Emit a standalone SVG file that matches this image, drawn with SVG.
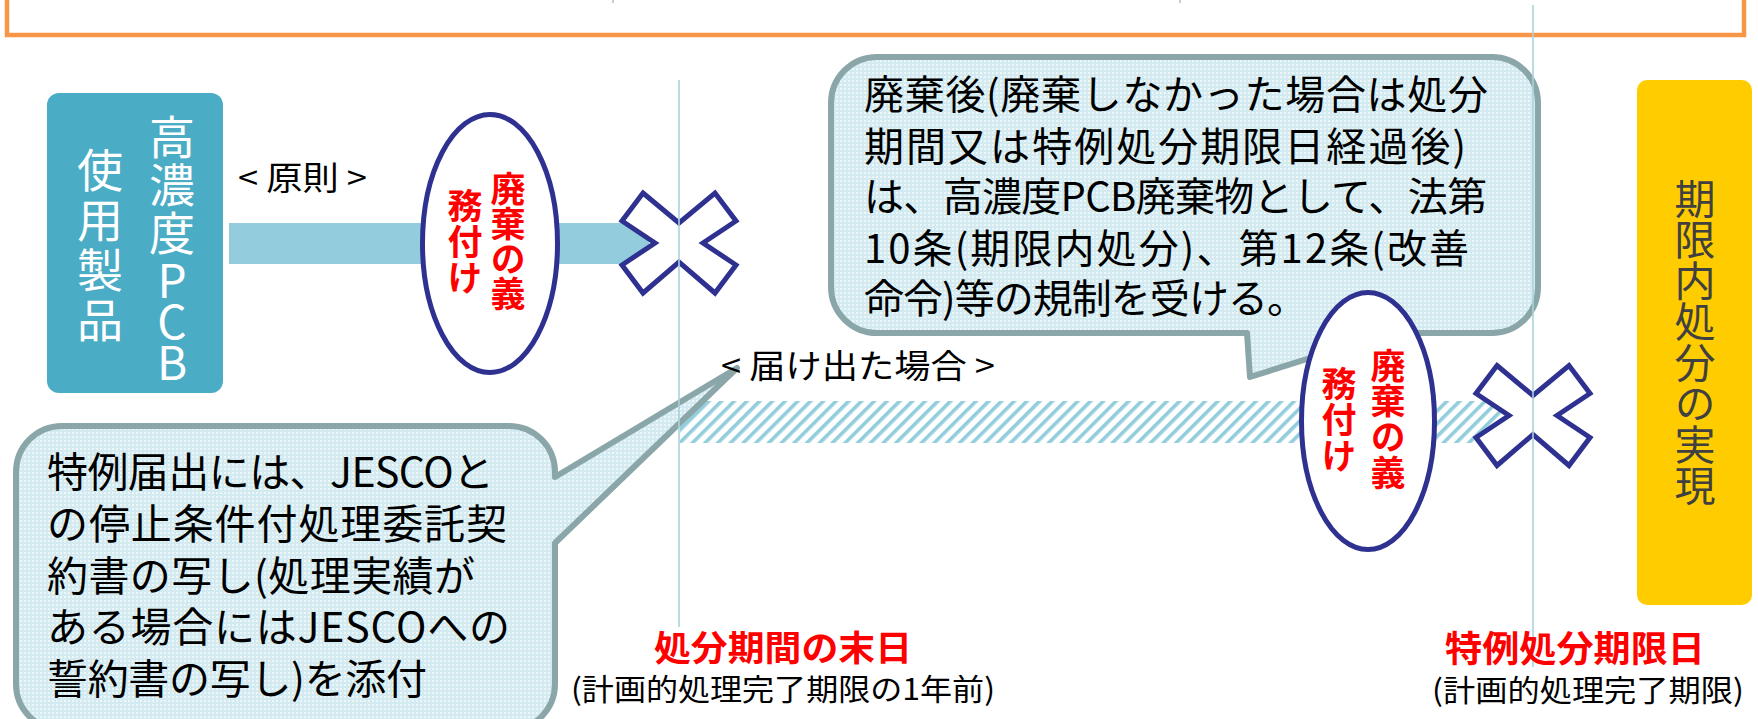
<svg xmlns="http://www.w3.org/2000/svg" width="1758" height="719" viewBox="0 0 1758 719">
<defs>
<style>
text{font-family:"Noto Sans CJK JP","Noto Sans CJK SC",sans-serif;}
.blk{fill:#000;}
.red{fill:#FF0000;font-weight:bold;}
.wht{fill:#fff;}
.vt{writing-mode:vertical-rl;text-orientation:upright;}
.vline{stroke:#A9D3DA;stroke-width:1.6;fill:none;}
.callout{fill:url(#dots);stroke:#8BA6A8;stroke-width:6;stroke-linejoin:round;}
.ell{fill:#fff;stroke:#2E3190;stroke-width:5;}
.cross{fill:#fff;stroke:#2E3190;stroke-width:5;stroke-linejoin:miter;}
</style>
<pattern id="dots" width="4" height="4" patternUnits="userSpaceOnUse">
<rect width="4" height="4" fill="#D3EBF0"/>
<rect x="0" y="0" width="2" height="2" fill="#EDF7F9"/>
</pattern>
<pattern id="hatch" width="9" height="9" patternUnits="userSpaceOnUse" patternTransform="rotate(45)">
<rect width="9" height="9" fill="#fff"/>
<rect width="3.6" height="9" fill="#92CDDC"/>
</pattern>
</defs>
<rect width="1758" height="719" fill="#fff"/>

<g id="header">
<rect x="7" y="-20" width="1737" height="55" fill="none" stroke="#F79646" stroke-width="4.5"/>
<line x1="613" y1="0" x2="613" y2="3" stroke="#999" stroke-width="1"/>
<line x1="1180" y1="0" x2="1180" y2="3" stroke="#999" stroke-width="1"/>
</g>

<g id="connectors">
<rect x="229" y="223" width="420" height="41" fill="#93CDDD"/>
<rect x="680" y="401" width="824" height="42" fill="url(#hatch)"/>
</g>

<g id="node-pcb">
<rect x="47" y="93" width="176" height="300" rx="12" fill="#4BACC6"/>
<text class="wht vt" font-size="46" x="172" y="114" letter-spacing="2">高濃度</text>
<text class="wht vt" font-size="46" x="172" y="258" letter-spacing="-5">PCB</text>
<text class="wht vt" font-size="46" x="100" y="147" letter-spacing="4">使用製品</text>
</g>

<g id="node-goal">
<rect x="1637" y="80" width="115" height="525" rx="10" fill="#FFCC00"/>
<text class="vt" font-size="41" fill="#404040" x="1695" y="178">期限内処分の実現</text>
</g>

<g id="callout-after">
<path class="callout" d="M877,57 H1492 A46,46 0 0 1 1538,103 V287 A46,46 0 0 1 1492,333 H1390 L1250,377 L1247,333 H877 A46,46 0 0 1 831,287 V103 A46,46 0 0 1 877,57 Z"/>
<text class="blk" font-size="40">
<tspan x="864" y="109" textLength="624">廃棄後(廃棄しなかった場合は処分</tspan>
<tspan x="864" y="161" textLength="602">期間又は特例処分期限日経過後)</tspan>
<tspan x="864" y="211" textLength="623">は、高濃度PCB廃棄物として、法第</tspan>
<tspan x="864" y="263" textLength="605">10条(期限内処分)、第12条(改善</tspan>
<tspan x="864" y="313" textLength="443">命令)等の規制を受ける。</tspan>
</text>
</g>

<g id="callout-notice">
<path class="callout" d="M62,426 H509 A46,46 0 0 1 555,472 V477 L737,368 L555,543 V684 A46,46 0 0 1 509,730 H62 A46,46 0 0 1 16,684 V472 A46,46 0 0 1 62,426 Z"/>
<text class="blk" font-size="41">
<tspan x="47" y="487" textLength="447">特例届出には、JESCOと</tspan>
<tspan x="47" y="539" textLength="460">の停止条件付処理委託契</tspan>
<tspan x="47" y="591" textLength="428">約書の写し(処理実績が</tspan>
<tspan x="47" y="642" textLength="463">ある場合にはJESCOへの</tspan>
<tspan x="47" y="694" textLength="380">誓約書の写し)を添付</tspan>
</text>
</g>

<g id="duty-1">
<ellipse class="ell" cx="490" cy="243.5" rx="67.5" ry="129"/>
<text class="red vt" font-size="35" x="508" y="171">廃棄の義</text>
<text class="red vt" font-size="35" x="465" y="188" letter-spacing="1">務付け</text>
</g>

<g id="duty-2">
<ellipse class="ell" cx="1368" cy="421" rx="66.5" ry="128.5"/>
<text class="red vt" font-size="35" x="1388" y="348" letter-spacing="0.7">廃棄の義</text>
<text class="red vt" font-size="35" x="1339" y="366" letter-spacing="1">務付け</text>
</g>

<g id="cross-1">
<polygon class="cross" transform="translate(679,243)" points="-36,-50 0,-20 36,-50 57,-22 24,0 57,22 36,50 0,19 -36,50 -57,22 -24,0 -57,-22"/>
</g>
<g id="cross-2">
<polygon class="cross" transform="translate(1533,415.5)" points="-36,-50 0,-20 36,-50 57,-22 24,0 57,22 36,50 0,19 -36,50 -57,22 -24,0 -57,-22"/>
</g>

<g id="timeline">
<line class="vline" x1="679" y1="80" x2="679" y2="627"/>
<line class="vline" x1="1533" y1="5" x2="1533" y2="667"/>
</g>

<g id="labels">
<text class="blk" font-size="33" x="238" y="190" textLength="129" lengthAdjust="spacingAndGlyphs">&lt; 原則 &gt;</text>
<text class="blk" font-size="33" x="721" y="378" textLength="274" lengthAdjust="spacingAndGlyphs">&lt; 届け出た場合 &gt;</text>
<text class="red" font-size="35" x="654" y="661" textLength="258" lengthAdjust="spacingAndGlyphs">処分期間の末日</text>
<text class="blk" font-size="30" x="571" y="700" textLength="424" lengthAdjust="spacingAndGlyphs">(計画的処理完了期限の1年前)</text>
<text class="red" font-size="36" x="1445" y="662" textLength="260" lengthAdjust="spacingAndGlyphs">特例処分期限日</text>
<text class="blk" font-size="30" x="1432" y="701" textLength="312" lengthAdjust="spacingAndGlyphs">(計画的処理完了期限)</text>
</g>
</svg>
